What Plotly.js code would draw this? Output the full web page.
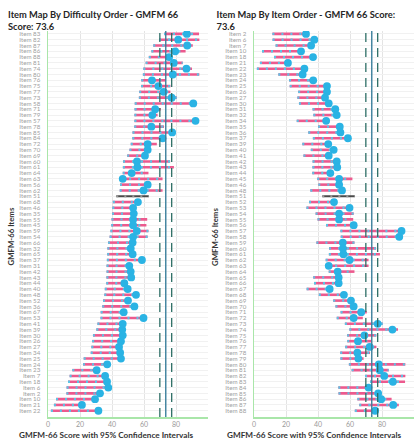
<!DOCTYPE html>
<html><head><meta charset="utf-8">
<script src="https://cdn.plot.ly/plotly-3.0.1.min.js"></script>
<style>
html,body{margin:0;padding:0;background:#fff;overflow:hidden;width:417px;height:445px}
#left{position:absolute;left:0;top:0;width:209px;height:445px}
#right{position:absolute;left:209px;top:0;width:208px;height:445px}
</style></head><body>
<div id="left"></div><div id="right"></div>
<script>
// ---- data (item order) ----
const items = [2,6,7,10,18,21,22,23,24,25,26,27,30,31,32,34,35,36,37,39,40,41,42,43,44,45,46,48,51,52,53,54,55,56,57,58,59,60,61,62,63,64,65,66,67,68,69,70,71,72,73,74,75,76,77,78,79,80,81,82,83,84,85,86,87,88];
const lowerCI = [11.5,11.6,13.5,5.0,12.5,3.7,1.8,15.2,21.9,22.3,27.6,27.1,28.1,36.6,37.1,26.7,40.0,33.9,36.8,30.2,35.5,30.9,36.6,36.5,36.4,39.5,40.2,35.2,42.7,34.4,32.8,38.5,39.7,45.0,54.0,54.2,39.0,46.9,46.8,44.8,45.1,46.7,37.0,37.5,32.9,40.5,49.5,50.9,54.1,51.7,56.8,59.6,58.2,58.3,57.0,53.9,54.0,59.3,61.0,69.4,72.5,52.7,52.8,64.6,65.8,63.0];
const upperCI = [32.0,37.5,35.8,29.4,36.9,21.2,31.5,30.4,37.0,45.6,45.6,44.4,46.7,50.8,51.7,45.1,53.6,54.0,58.7,46.4,49.8,46.7,51.7,52.0,47.7,61.5,53.2,55.0,63.0,50.0,60.0,62.3,62.0,64.0,93.0,91.3,62.8,76.3,78.7,71.6,71.6,62.8,52.9,52.9,47.3,56.2,60.6,62.3,70.5,68.0,80.5,90.0,76.5,73.5,76.5,72.5,68.5,94.6,84.2,94.6,94.4,72.5,75.5,86.0,90.5,77.0];
const itemScore = [32.5,37.7,35.7,29.4,36.9,21.2,31.5,30.4,37.0,45.6,45.6,44.4,46.7,50.8,51.7,45.1,53.6,54.0,58.7,46.4,49.8,46.7,51.7,52.0,47.7,53.2,53.2,55.0,null,50.0,59.7,53.2,53.2,62.3,92.2,90.8,55.5,55.6,55.9,59.7,46.7,52.3,52.9,52.9,47.3,56.2,60.6,62.3,67.0,62.3,77.3,86.5,69.0,65.0,72.3,64.6,65.2,78.0,78.6,81.4,86.8,71.6,77.6,79.5,87.0,75.7];
const difficultyOrder = [83,82,87,86,88,81,74,80,76,75,77,73,58,71,79,57,78,85,84,72,70,69,60,61,64,63,56,62,51,68,46,35,55,45,59,54,66,32,65,37,31,42,43,44,40,48,52,36,67,53,41,39,30,26,27,34,25,24,23,7,18,6,2,10,21,22];
const gmfmScore = 73.6;
const gmfmLower = 69.9;
const gmfmUpper = 77.3;
const xTicks = [0,20,40,60,80,100];
const leftTitle = 'Item Map By Difficulty Order - GMFM 66<br>Score: 73.6';
const rightTitle = 'Item Map By Item Order - GMFM 66 Score:<br>73.6';
const xTitle = 'GMFM-66 Score with 95% Confidence Intervals';
const yTitle = 'GMFM-66 Items';

const label = n => 'Item ' + n;
const itemLabels = items.map(label);

function segments(filterFn) {
  const x = [], y = [];
  items.forEach((it, i) => {
    if (!filterFn(i)) return;
    x.push(lowerCI[i], upperCI[i], null);
    y.push(itemLabels[i], itemLabels[i], null);
  });
  return {x, y};
}

const FONT = 'Lato, "Open Sans", sans-serif';
const PINK = '#ec5a8e', CYAN = '#2ab3e4';

function makePanel(div, order, title, o) {
  const scored = segments(i => itemScore[i] !== null);
  const unscored = segments(i => itemScore[i] === null);
  const traces = [
    {x: scored.x, y: scored.y, mode: 'lines', line: {color: PINK, width: 2.6}, hoverinfo: 'skip', showlegend: false},
    {x: scored.x, y: scored.y, mode: 'lines', line: {color: '#5cc3e6', width: 2.4, dash: '2px,7px'}, hoverinfo: 'skip', showlegend: false},
    {x: unscored.x, y: unscored.y, mode: 'lines', line: {color: '#4a4a4a', width: 2.2}, hoverinfo: 'skip', showlegend: false},
    {x: unscored.x, y: unscored.y, mode: 'lines', line: {color: '#9a9a9a', width: 2.2, dash: '2px,6px'}, hoverinfo: 'skip', showlegend: false},
    {x: itemScore, y: itemLabels, mode: 'markers', marker: {color: CYAN, size: 7.8}, showlegend: false}
  ];
  const H = 445, W = o.W;
  const top = 30.6, bottom = 417.3;
  const ph = bottom - top, pw = W - o.l - o.r;
  const vline = (x, dash, color, w) => ({type: 'line', xref: 'x', yref: 'paper', x0: x, x1: x, y0: 0, y1: 1,
    line: {color: color, width: w, dash: dash}, layer: 'above'});
  const cats = order.map(label);
  const layout = {
    width: W, height: H,
    margin: {l: o.l, r: o.r, t: top, b: H - bottom, pad: 0},
    paper_bgcolor: '#fff', plot_bgcolor: '#fff',
    font: {family: FONT, color: '#333'},
    title: {text: title, x: o.titleX / W, xanchor: 'left', xref: 'container', y: 1 - 17.5 / H, yanchor: 'top', yref: 'container',
      font: {family: FONT, size: 9.3, weight: 'bold', color: '#262626'}},
    xaxis: {range: [0, 100], tickvals: xTicks, ticktext: xTicks.map(String), showgrid: true, gridcolor: '#e4e4e4', gridwidth: 1,
      zeroline: false, showline: true, linecolor: '#a9e6a9', linewidth: 1.5, ticks: '', ticklen: 0,
      tickfont: {family: FONT, size: 7, color: '#9a9a9a'}, fixedrange: true},
    yaxis: {type: 'category', categoryorder: 'array', categoryarray: cats, range: [66.08, -0.5],
      tickmode: 'array', tickvals: cats, ticktext: cats,
      showgrid: true, gridcolor: '#f1f1f1', zeroline: false, showline: true, linecolor: '#a9e6a9', linewidth: 1.5,
      ticks: '', tickfont: {family: FONT, size: 6.2, color: '#a0a0a0'}, ticklabelstandoff: 5, fixedrange: true},
    shapes: [
      vline(gmfmLower, '9px,6px', '#2e6f66', 1.3),
      vline(gmfmUpper, '9px,6px', '#2e6f66', 1.3),
      vline(gmfmScore, 'solid', '#3b7f9c', 1.4)
    ],
    annotations: [
      {text: xTitle, xref: 'paper', yref: 'paper', x: (o.xTitleCx - o.l) / pw, y: -(435 - bottom) / ph,
        xanchor: 'center', yanchor: 'middle', showarrow: false, font: {family: FONT, size: 8.2, weight: 'bold', color: '#333'}},
      {text: yTitle, xref: 'paper', yref: 'paper', x: (o.yTitleCx - o.l) / pw, y: (bottom - 237) / ph, textangle: -90,
        xanchor: 'center', yanchor: 'middle', showarrow: false, font: {family: FONT, size: 7.8, weight: 'bold', color: '#333'}}
    ]
  };
  Plotly.newPlot(div, traces, layout, {displayModeBar: false, staticPlot: true});
}

makePanel('left', difficultyOrder, leftTitle, {W: 209, l: 48, r: 1, titleX: 8, xTitleCx: 106, yTitleCx: 11.5});
makePanel('right', items, rightTitle, {W: 208, l: 44.7, r: 2.5, titleX: 7.5, xTitleCx: 105, yTitleCx: 5.5});
</script>
</body></html>
